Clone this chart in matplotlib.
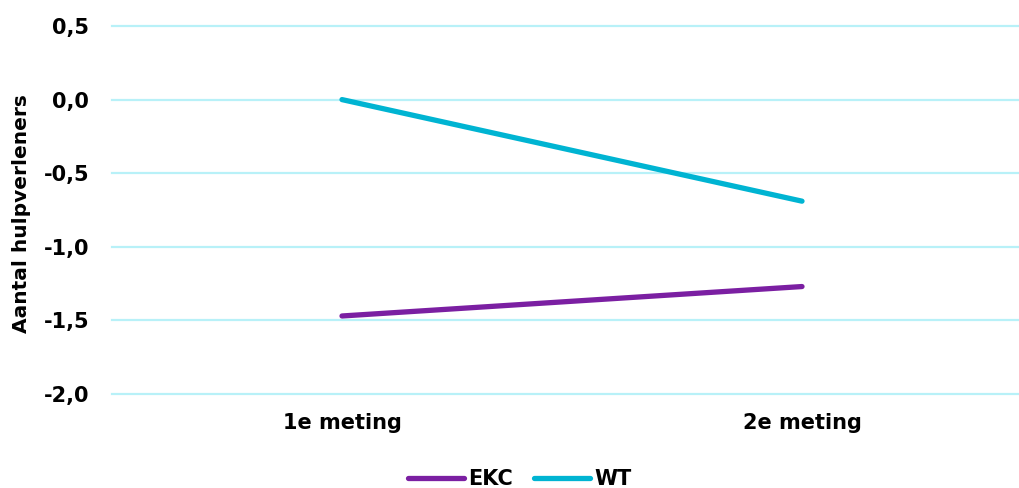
import matplotlib
matplotlib.use("Agg")
import matplotlib.pyplot as plt
from matplotlib.ticker import FuncFormatter

categories = ["1e meting", "2e meting"]
series_names = ["EKC", "WT"]
ekc_values = [-1.47, -1.27]
wt_values = [0.0, -0.69]
y_ticks = [-2.0, -1.5, -1.0, -0.5, 0.0, 0.5]

colors = {"EKC": "#7b1fa2", "WT": "#00b4d2"}
grid_color = "#b8f1f8"

plt.rcParams["font.family"] = ["DejaVu Sans"]
plt.rcParams["font.weight"] = "bold"

fig = plt.figure(figsize=(10.2, 4.88), dpi=100)
# plot area: left edge at 112 px, category spacing 460 px
W, H = 1020, 488
ax = fig.add_axes([112 / W, (H - 394) / H, 920 / W, (394 - 26) / H])

x = list(range(len(categories)))
for name, vals in zip(series_names, [ekc_values, wt_values]):
    ax.plot(x, vals, color=colors[name], lw=3.8, solid_capstyle="round", label=name, zorder=3)

ax.set_xlim(-0.5, 1.5)
ax.set_ylim(-2.0, 0.5)
ax.set_yticks(y_ticks)
ax.yaxis.set_major_formatter(FuncFormatter(lambda v, p: f"{v:.1f}".replace(".", ",")))
ax.set_xticks(x)
ax.set_xticklabels(categories)
ax.grid(axis="y", color=grid_color, lw=1.6, zorder=0)
for gl in ax.get_ygridlines():
    gl.set_clip_on(False)
ax.set_axisbelow(True)
for s in ax.spines.values():
    s.set_visible(False)
ax.tick_params(axis="both", length=0, labelsize=15)
ax.tick_params(axis="y", pad=16.5)
ax.tick_params(axis="x", pad=14)
for lbl in ax.get_xticklabels() + ax.get_yticklabels():
    lbl.set_fontweight("bold")

fig.text(22 / W, 1 - 214 / H, "Aantal hulpverleners", rotation=90, ha="center", va="center",
         fontsize=14.5, fontweight="bold")

leg = fig.legend(loc="center", bbox_to_anchor=(520 / W, 1 - 479 / H), ncol=2, frameon=False,
                 fontsize=15, handlelength=2.7, handletextpad=0.2, columnspacing=1.0)
for t in leg.get_texts():
    t.set_fontweight("bold")

fig.savefig("out.png", dpi=100)
